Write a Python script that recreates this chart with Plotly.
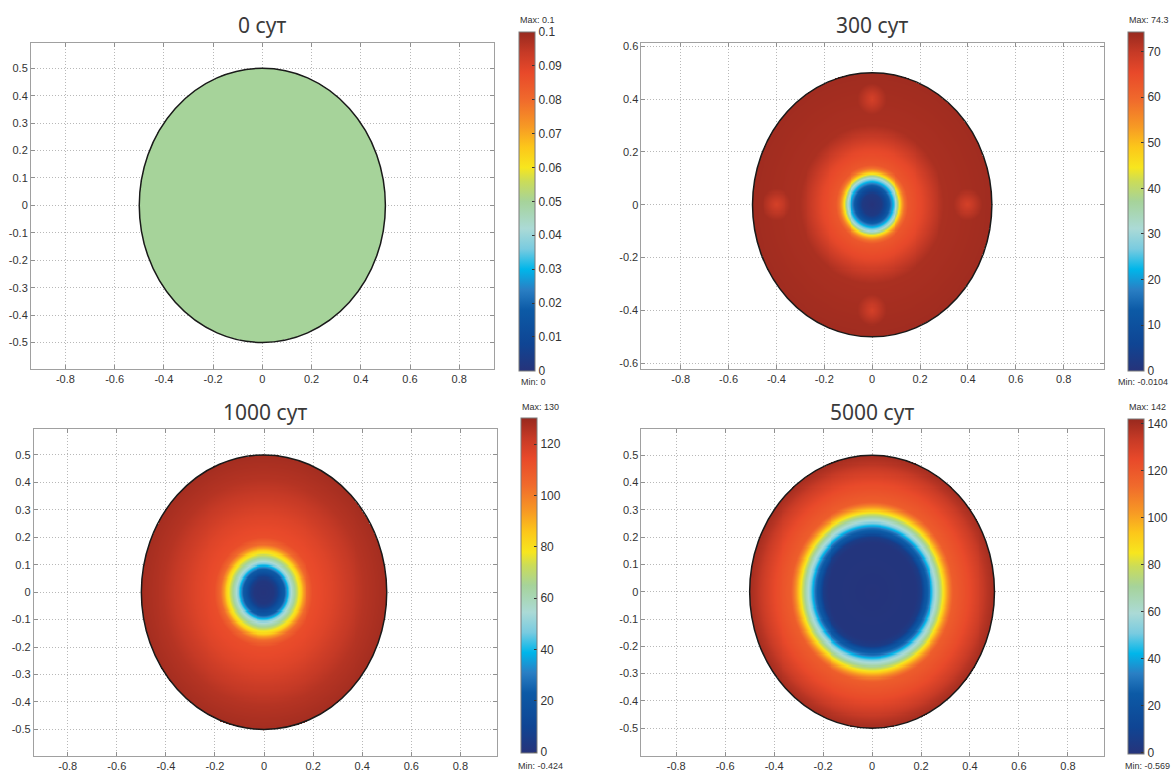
import numpy as np
import plotly.graph_objects as go

# ---- panel captions -------------------------------------------------------
titles = ["0 сут", "300 сут", "1000 сут", "5000 сут"]

# ---- radial profiles of the field (distance from centre, value) ------------
r_0 = [0.0, 0.5]
v_0 = [0.05, 0.05]

r_300 = [0.0, 0.04, 0.06, 0.075, 0.09, 0.10, 0.108, 0.116, 0.125, 0.135, 0.15, 0.21, 0.26, 0.30, 0.50]
v_300 = [0.0, 2.0, 8.0, 15.0, 24.0, 30.0, 37.0, 45.0, 52.0, 58.0, 63.0, 66.0, 70.0, 72.5, 73.5]

# lighter spots of the 300-day field: centres and value drop vs distance
spot_x = [0.4, -0.4, 0.0, 0.0]
spot_y = [0.0, 0.0, 0.4, -0.4]
spot_d = [0.0, 0.03, 0.06]
spot_dv = [-5.0, -2.5, 0.0]

r_1000 = [0.0, 0.04, 0.055, 0.07, 0.085, 0.095, 0.105, 0.115, 0.125, 0.14, 0.15, 0.16, 0.175,
          0.20, 0.28, 0.34, 0.41, 0.50]
v_1000 = [0.0, 1.5, 6.0, 16.0, 24.0, 36.0, 48.0, 57.0, 64.0, 76.0, 82.0, 92.0, 104.0,
          113.0, 117.0, 121.0, 125.0, 128.0]

r_5000 = [0.0, 0.18, 0.20, 0.215, 0.232, 0.242, 0.255, 0.268, 0.28, 0.29, 0.30, 0.315, 0.33,
          0.39, 0.44, 0.47, 0.50]
v_5000 = [0.0, 1.0, 5.0, 20.0, 30.0, 42.0, 55.0, 65.0, 76.0, 85.0, 95.0, 108.0, 118.0,
          124.0, 131.0, 136.0, 140.0]

# ---- colour-bar limits and ticks -----------------------------------------
val_min = [0, -0.0104, -0.424, -0.569]
val_max = [0.1, 74.3, 130, 142]
min_text = ["Min: 0", "Min: -0.0104", "Min: -0.424", "Min: -0.569"]
max_text = ["Max: 0.1", "Max: 74.3", "Max: 130", "Max: 142"]

cbar_ticks = [
    [0, 0.01, 0.02, 0.03, 0.04, 0.05, 0.06, 0.07, 0.08, 0.09, 0.1],
    [0, 10, 20, 30, 40, 50, 60, 70],
    [0, 20, 40, 60, 80, 100, 120],
    [0, 20, 40, 60, 80, 100, 120, 140],
]
cbar_labels = [
    ["0", "0.01", "0.02", "0.03", "0.04", "0.05", "0.06", "0.07", "0.08", "0.09", "0.1"],
    ["0", "10", "20", "30", "40", "50", "60", "70"],
    ["0", "20", "40", "60", "80", "100", "120"],
    ["0", "20", "40", "60", "80", "100", "120", "140"],
]

# ---- axis ticks ------------------------------------------------------------
x_ticks = [-0.8, -0.6, -0.4, -0.2, 0.0, 0.2, 0.4, 0.6, 0.8]
x_tick_labels = ["-0.8", "-0.6", "-0.4", "-0.2", "0", "0.2", "0.4", "0.6", "0.8"]
y_ticks_fine = [-0.5, -0.4, -0.3, -0.2, -0.1, 0.0, 0.1, 0.2, 0.3, 0.4, 0.5]
y_labels_fine = ["-0.5", "-0.4", "-0.3", "-0.2", "-0.1", "0", "0.1", "0.2", "0.3", "0.4", "0.5"]
y_ticks_coarse = [-0.6, -0.4, -0.2, 0.0, 0.2, 0.4, 0.6]
y_labels_coarse = ["-0.6", "-0.4", "-0.2", "0", "0.2", "0.4", "0.6"]

# ---- colour table ------------------------------------------------------------
colorscale = [
    [0.00, "#26337a"], [0.08, "#0f4594"], [0.18, "#0c5aa6"], [0.24, "#2a7fc4"],
    [0.30, "#00b6ea"], [0.36, "#79cbe0"], [0.42, "#abdad6"], [0.50, "#a6d39a"],
    [0.56, "#cbdc58"], [0.60, "#f7e61e"], [0.66, "#fcc71a"], [0.72, "#f79a24"],
    [0.80, "#f06a2c"], [0.88, "#e8492a"], [0.94, "#c63a26"], [1.00, "#98291e"],
]

# ---- sample the disk -------------------------------------------------------
N = 251
grid = np.linspace(-0.5, 0.5, N)
gx, gy = np.meshgrid(grid, grid)
rr = np.hypot(gx, gy)


def disk_field(r_st, v_st, spots=False):
    z = np.interp(rr, r_st, v_st)
    if spots:
        for sx, sy in zip(spot_x, spot_y):
            d = np.hypot(gx - sx, gy - sy)
            z = z + np.interp(d, spot_d, spot_dv)
    out = []
    for row, rrow in zip(z, rr):
        out.append([round(float(v), 3) if rv <= 0.5 else None for v, rv in zip(row, rrow)])
    return out


fields = [
    disk_field(r_0, v_0),
    disk_field(r_300, v_300, spots=True),
    disk_field(r_1000, v_1000),
    disk_field(r_5000, v_5000),
]

# ---- geometry (paper fractions) -------------------------------------------
W, H = 1172, 772
x_dom = [[31 / W, 494.6 / W], [642 / W, 1105.3 / W], [33.9 / W, 497.1 / W], [642 / W, 1104.6 / W]]
y_dom = [[1 - 368 / H, 1 - 40 / H], [1 - 368 / H, 1 - 40 / H],
         [1 - 756.7 / H, 1 - 428.3 / H], [1 - 756.7 / H, 1 - 428.3 / H]]
x_rng = [[-0.94, 0.942], [-0.964, 0.970], [-0.938, 0.948], [-0.942, 0.946]]
y_rng = [[-0.597, 0.593], [-0.622, 0.613], [-0.596, 0.594], [-0.601, 0.596]]
cbar_left = [519, 1129, 521.5, 1129]
cbar_top = [29, 29, 417.5, 418]
cbar_len = [339, 339, 335, 335]
title_y = [22, 22, 411, 411]
max_y = [17, 17, 406, 406]
min_y = [381, 381, 766.5, 766.5]
min_x = [519, 1171, 516, 1124]
min_anchor = ["left", "right", "left", "left"]

axis_font = dict(family="Liberation Sans, Arial, sans-serif", size=11, color="#333333")
grid_style = dict(showgrid=True, gridcolor="#b8b8b8", griddash="1px,2px", gridwidth=1)

fig = go.Figure()
layout = dict(
    width=W, height=H,
    margin=dict(l=0, r=0, t=0, b=0),
    paper_bgcolor="white", plot_bgcolor="white",
    showlegend=False, shapes=[], annotations=[],
)

for i in range(4):
    sfx = "" if i == 0 else str(i + 1)
    fig.add_trace(go.Heatmap(
        x=grid, y=grid, z=fields[i],
        xaxis="x" + sfx, yaxis="y" + sfx,
        colorscale=colorscale, zmin=val_min[i], zmax=val_max[i],
        hoverinfo="skip",
        colorbar=dict(
            x=cbar_left[i] / W, xanchor="left", xpad=0,
            y=1 - cbar_top[i] / H, yanchor="top", ypad=0,
            lenmode="pixels", len=cbar_len[i], thickness=16,
            outlinewidth=1, outlinecolor="#7a7a7a",
            tickvals=cbar_ticks[i], ticktext=cbar_labels[i],
            ticks="inside", ticklen=3, tickcolor="#333333",
            tickfont=dict(family="Liberation Sans, Arial, sans-serif", size=12, color="#333333"),
        ),
    ))
    yt, yl = (y_ticks_coarse, y_labels_coarse) if i == 1 else (y_ticks_fine, y_labels_fine)
    layout["xaxis" + sfx] = dict(
        domain=x_dom[i], range=x_rng[i], anchor="y" + sfx,
        tickvals=x_ticks, ticktext=x_tick_labels, **grid_style,
        zeroline=False, showline=True, linecolor="#a0a0a0", linewidth=1, mirror="ticks",
        ticks="inside", ticklen=4, tickcolor="#909090", tickfont=axis_font,
    )
    layout["yaxis" + sfx] = dict(
        domain=y_dom[i], range=y_rng[i], anchor="x" + sfx,
        tickvals=yt, ticktext=yl, **grid_style,
        zeroline=False, showline=True, linecolor="#a0a0a0", linewidth=1, mirror="ticks",
        ticks="inside", ticklen=4, tickcolor="#909090", tickfont=axis_font,
    )
    # disk boundary
    layout["shapes"].append(dict(
        type="circle", xref="x" + sfx, yref="y" + sfx,
        x0=-0.5, x1=0.5, y0=-0.5, y1=0.5,
        line=dict(color="#1a1a1a", width=1.5), layer="above",
    ))
    # caption
    layout["annotations"].append(dict(
        text=titles[i], xref="paper", yref="paper",
        x=(x_dom[i][0] + x_dom[i][1]) / 2, y=1 - title_y[i] / H,
        xanchor="center", yanchor="middle", showarrow=False,
        font=dict(family="Noto Sans, Open Sans, sans-serif", size=21, color="#3a3a3a"),
    ))
    # extreme values of the field
    layout["annotations"].append(dict(
        text=max_text[i], xref="paper", yref="paper",
        x=(cbar_left[i] - 1) / W, y=1 - max_y[i] / H,
        xanchor="left", yanchor="middle", showarrow=False,
        font=dict(family="Liberation Sans, Arial, sans-serif", size=9, color="#333333"),
    ))
    layout["annotations"].append(dict(
        text=min_text[i], xref="paper", yref="paper",
        x=min_x[i] / W, y=1 - min_y[i] / H,
        xanchor=min_anchor[i], yanchor="middle", showarrow=False,
        font=dict(family="Liberation Sans, Arial, sans-serif", size=9, color="#333333"),
    ))

fig.update_layout(**layout)
fig.write_html("out.html")
